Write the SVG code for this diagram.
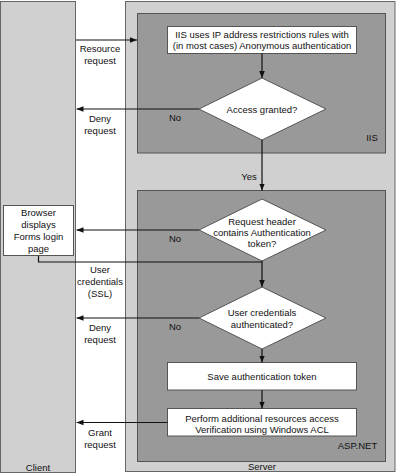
<svg xmlns="http://www.w3.org/2000/svg" width="400" height="474" viewBox="0 0 400 474">
<defs>
<style>
.panel{fill:#d0d0d0;stroke:#666;stroke-width:1}
.inner{fill:#999;stroke:#555;stroke-width:1}
.box{fill:#fff;stroke:#555;stroke-width:1}
.line{fill:none;stroke:#111;stroke-width:1.2}
text{font-family:"Liberation Sans",Arial,sans-serif;font-size:9.5px;fill:#111;text-anchor:middle}
</style>
<marker id="ah" viewBox="0 0 10 10" refX="10" refY="5" markerWidth="7" markerHeight="7" markerUnits="userSpaceOnUse" orient="auto">
<path d="M0,1 L10,5 L0,9 z" fill="#111"/>
</marker>
</defs>
<rect width="400" height="474" fill="#fff"/>
<g id="client">
<rect class="panel" x="0.5" y="1.5" width="75" height="471"/>
<text x="38" y="471">Client</text>
</g>
<g id="server">
<rect class="panel" x="125.5" y="1.5" width="269.5" height="470"/>
<text x="262" y="470">Server</text>
</g>
<g id="iis">
<rect class="inner" x="137.5" y="13.5" width="248" height="139.5"/>
<text x="372" y="141">IIS</text>
</g>
<g id="aspnet">
<rect class="inner" x="137.5" y="190.5" width="248" height="271"/>
<text x="357.5" y="449">ASP.NET</text>
</g>
<g id="iis-rules">
<rect class="box" x="167.5" y="26.5" width="189" height="27"/>
<text x="262" y="37.5">IIS uses IP address restrictions rules with</text>
<text x="262" y="49">(in most cases) Anonymous authentication</text>
</g>
<g id="access-granted">
<polygon class="box" points="262,78 326,109 262,140 199,109"/>
<text x="262" y="112.5">Access granted?</text>
</g>
<g id="request-header">
<polygon class="box" points="262,199 326,230 262,261 199,230"/>
<text x="262" y="225">Request header</text>
<text x="262" y="236">contains Authentication</text>
<text x="262" y="247">token?</text>
</g>
<g id="browser">
<rect class="box" x="3.5" y="205.5" width="70" height="50"/>
<text x="38.5" y="216">Browser</text>
<text x="38.5" y="228">displays</text>
<text x="38.5" y="240">Forms login</text>
<text x="38.5" y="251.5">page</text>
</g>
<g id="user-credentials">
<polygon class="box" points="262,287 326,318 262,349 199,318"/>
<text x="262" y="316">User credentials</text>
<text x="262" y="328">authenticated?</text>
</g>
<g id="save-token">
<rect class="box" x="167.5" y="362.5" width="189" height="27.5"/>
<text x="262" y="379.5">Save authentication token</text>
</g>
<g id="perform">
<rect class="box" x="167.5" y="408.5" width="189" height="27.5"/>
<text x="262" y="421.5">Perform additional resources access</text>
<text x="262" y="432.5">Verification using Windows ACL</text>
</g>
<g id="connectors">
<line class="line" x1="76" y1="40" x2="137" y2="40" marker-end="url(#ah)"/>
<line class="line" x1="262" y1="53.5" x2="262" y2="78" marker-end="url(#ah)"/>
<line class="line" x1="199" y1="109" x2="76.5" y2="109" marker-end="url(#ah)"/>
<line class="line" x1="262" y1="140" x2="262" y2="190.5" marker-end="url(#ah)"/>
<line class="line" x1="199" y1="230" x2="76.5" y2="230" marker-end="url(#ah)"/>
<polyline class="line" points="38.5,256 38.5,262 262,262"/>
<line class="line" x1="262" y1="261" x2="262" y2="287" marker-end="url(#ah)"/>
<line class="line" x1="199" y1="318" x2="76.5" y2="318" marker-end="url(#ah)"/>
<line class="line" x1="262" y1="349" x2="262" y2="362.5" marker-end="url(#ah)"/>
<line class="line" x1="262" y1="390" x2="262" y2="408.5" marker-end="url(#ah)"/>
<line class="line" x1="167.5" y1="422.5" x2="76.5" y2="422.5" marker-end="url(#ah)"/>
<text x="100" y="51.5">Resource</text>
<text x="100" y="63.5">request</text>
<text x="175" y="121">No</text>
<text x="100" y="122">Deny</text>
<text x="100" y="134">request</text>
<text x="249" y="179.5">Yes</text>
<text x="175" y="241.5">No</text>
<text x="100" y="273">User</text>
<text x="100" y="285">credentials</text>
<text x="100" y="297">(SSL)</text>
<text x="175" y="330">No</text>
<text x="100" y="331">Deny</text>
<text x="100" y="342.5">request</text>
<text x="100" y="435.5">Grant</text>
<text x="100" y="447.5">request</text>
</g>
</svg>
